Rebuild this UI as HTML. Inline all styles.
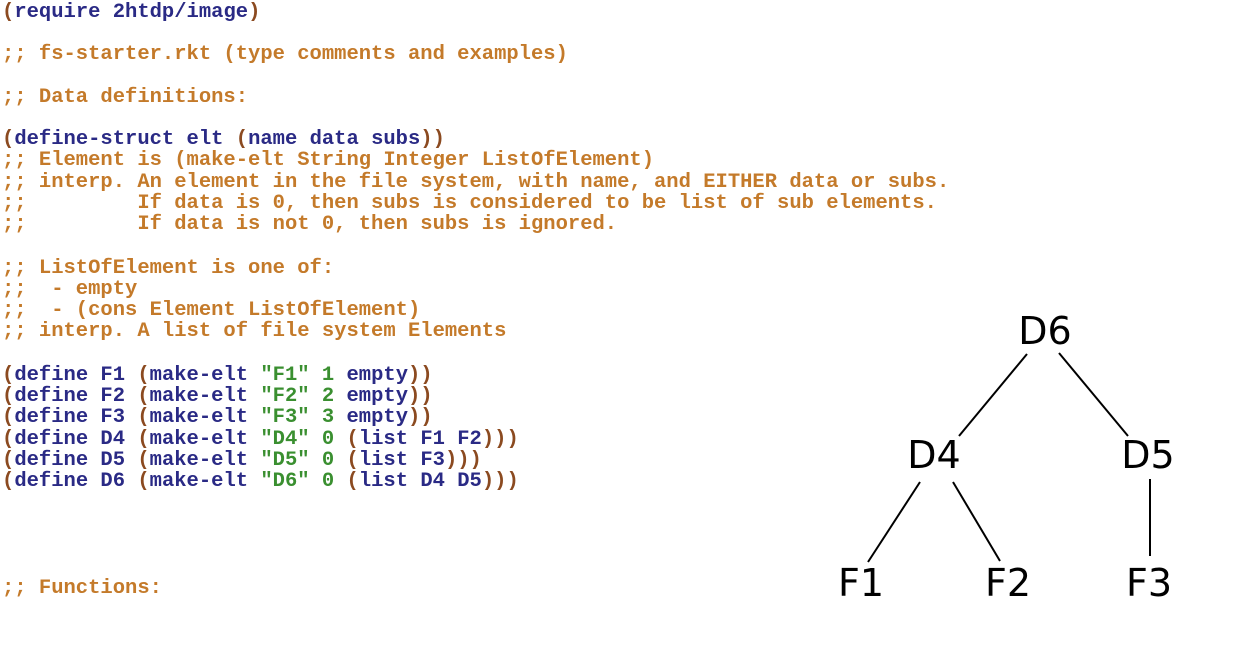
<!DOCTYPE html>
<html><head><meta charset="utf-8"><style>
body{margin:0;width:1256px;height:649px;background:#fff;overflow:hidden;position:relative}
.l{position:absolute;left:2px;font-family:"Liberation Mono",monospace;font-weight:bold;font-size:20.5px;line-height:22px;white-space:pre;color:#2a2a85;margin-top:3px}
.c{color:#c47a2a}.p{color:#8b4a20}.s{color:#3a8f30}
</style></head><body>
<div class="l" style="top:-1px"><span class="p">(</span>require 2htdp/image<span class="p">)</span></div>
<div class="l c" style="top:41px">;; fs-starter.rkt (type comments and examples)</div>
<div class="l c" style="top:84px">;; Data definitions:</div>
<div class="l" style="top:126px"><span class="p">(</span>define-struct elt <span class="p">(</span>name data subs<span class="p">))</span></div>
<div class="l c" style="top:147px">;; Element is (make-elt String Integer ListOfElement)</div>
<div class="l c" style="top:169px">;; interp. An element in the file system, with name, and EITHER data or subs.</div>
<div class="l c" style="top:190px">;;         If data is 0, then subs is considered to be list of sub elements.</div>
<div class="l c" style="top:211px">;;         If data is not 0, then subs is ignored.</div>
<div class="l c" style="top:255px">;; ListOfElement is one of:</div>
<div class="l c" style="top:276px">;;  - empty</div>
<div class="l c" style="top:297px">;;  - (cons Element ListOfElement)</div>
<div class="l c" style="top:318px">;; interp. A list of file system Elements</div>
<div class="l" style="top:362px"><span class="p">(</span>define F1 <span class="p">(</span>make-elt <span class="s">"F1" 1</span> empty<span class="p">))</span></div>
<div class="l" style="top:383px"><span class="p">(</span>define F2 <span class="p">(</span>make-elt <span class="s">"F2" 2</span> empty<span class="p">))</span></div>
<div class="l" style="top:404px"><span class="p">(</span>define F3 <span class="p">(</span>make-elt <span class="s">"F3" 3</span> empty<span class="p">))</span></div>
<div class="l" style="top:426px"><span class="p">(</span>define D4 <span class="p">(</span>make-elt <span class="s">"D4" 0</span> <span class="p">(</span>list F1 F2<span class="p">)))</span></div>
<div class="l" style="top:447px"><span class="p">(</span>define D5 <span class="p">(</span>make-elt <span class="s">"D5" 0</span> <span class="p">(</span>list F3<span class="p">)))</span></div>
<div class="l" style="top:468px"><span class="p">(</span>define D6 <span class="p">(</span>make-elt <span class="s">"D6" 0</span> <span class="p">(</span>list D4 D5<span class="p">)))</span></div>
<div class="l c" style="top:575px">;; Functions:</div>
<svg style="position:absolute;left:0;top:0" width="1256" height="649">
<g stroke="#000" stroke-width="2">
<line x1="1027" y1="354" x2="959" y2="436"/>
<line x1="1059" y1="353" x2="1128" y2="436"/>
<line x1="920" y1="482" x2="868" y2="562"/>
<line x1="953" y1="482" x2="1000" y2="561"/>
<line x1="1150" y1="479" x2="1150" y2="556"/>
</g>
<g font-family="DejaVu Sans, sans-serif" font-size="38" text-anchor="middle" fill="#000">
<text x="1045" y="344">D6</text>
<text x="934" y="468">D4</text>
<text x="1148" y="468">D5</text>
<text x="861" y="596">F1</text>
<text x="1008" y="596">F2</text>
<text x="1149" y="596">F3</text>
</g>
</svg>
</body></html>
